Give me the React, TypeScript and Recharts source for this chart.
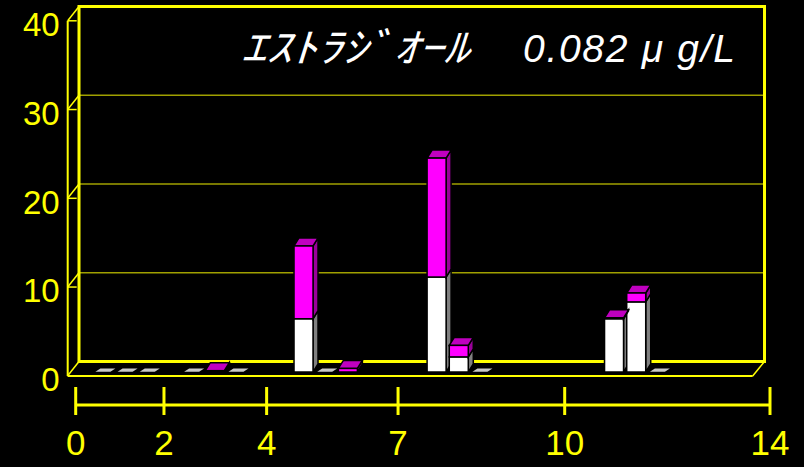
import { Bar, BarChart, CartesianGrid, XAxis, YAxis } from "recharts";

// one slot per sample position along the floor
const sampleNo = [
  "1", "2", "3", "4", "5", "6", "7", "8", "9", "10",
  "11", "12", "13", "14", "15", "16", "17", "18", "19", "20",
  "21", "22", "23", "24", "25", "26", "27", "28", "29", "30",
];
// null = no reading at that slot, 0 = reading of zero
const lowerPart = [
  0, 0, 0, null, 0, 0, 0, null, null, 6.0,
  0, 0, null, null, null, 10.7, 1.7, 0, null, null,
  null, null, null, 6.0, 7.9, 0, null, null, null, null,
];
const upperPart = [
  0, 0, 0, null, 0, 0.15, 0, null, null, 8.2,
  0, 0.4, null, null, null, 13.4, 1.3, 0, null, null,
  null, null, null, 0.1, 1.0, 0, null, null, null, null,
];
const valueTicks = [0, 10, 20, 30, 40];
const dayLabels = [0, 2, 4, 7, 10, 14];
// the printed day ruler is not evenly spaced; where each label sits on 0..14
const dayMarks = [0, 1.78, 3.85, 6.5, 9.86, 14];

const rows = sampleNo.map((s, i) => ({ slot: s, lower: lowerPart[i], upper: upperPart[i] }));

const YEL = "#FFFF00";
const GRID = "#A0A000";
const FONT = "'Liberation Sans', Arial, sans-serif";

// box depth (3D look)
const DX = 5;
const DY = 8;
// back wall / front edge offsets from the value scale
const BACK = -10.5;
const FRONT = 3.8;

const box = (
  x: number, y: number, w: number, h: number,
  front: string, side: string, top: string, drawTop: boolean
) => (
  <g>
    <polygon
      points={`${x + w},${y + h} ${x + w + DX},${y + h - DY} ${x + w + DX},${y - DY} ${x + w},${y}`}
      fill={side}
      stroke="#000"
      strokeWidth={1.5}
    />
    {drawTop && (
      <polygon
        points={`${x},${y} ${x + DX},${y - DY} ${x + w + DX},${y - DY} ${x + w},${y}`}
        fill={top}
        stroke="#000"
        strokeWidth={1.5}
      />
    )}
    <rect x={x} y={y} width={w} height={h} fill={front} stroke="#000" strokeWidth={1.5} />
  </g>
);

const LowerShape = (p: any) => {
  const { x, y, width, height, payload } = p;
  if (payload.lower == null) return <g />;
  if (payload.lower === 0) {
    if (payload.upper > 0) return <g />;
    // zero reading: only a flat lid on the floor
    const y0 = y + height;
    return (
      <polygon
        points={`${x + 1},${y0 - 0.3} ${x + width - 3},${y0 - 0.3} ${x + width + 2},${y0 - 3.5} ${x + 6},${y0 - 3.5}`}
        fill="#C8C8C8"
      />
    );
  }
  return box(x, y, width, height, "#FFFFFF", "#808080", "#C0C0C0", !(payload.upper > 0));
};

const UpperShape = (p: any) => {
  const { x, y, width, height, payload } = p;
  if (!(payload.upper > 0)) return <g />;
  return box(x, y, width, height, "#FF00FF", "#990099", "#C000C0", true);
};

// back wall gridlines, front ticks and the floor
const wallLine = (p: any) => {
  const { x1, x2, y1, y, height, key } = p;
  const isBottom = Math.abs(y1 - (y + height)) < 1;
  const isTop = Math.abs(y1 - y) < 1;
  const bx1 = x1 + 3.3;
  const bx2 = x2 - 5.5;
  const fx = x1 - 8;
  return (
    <g key={key}>
      <line
        x1={bx1}
        x2={bx2}
        y1={y1 + BACK}
        y2={y1 + BACK}
        stroke={isBottom || isTop ? YEL : GRID}
        strokeWidth={isBottom || isTop ? 3 : 1.3}
      />
      <line x1={fx} x2={x1 + 1} y1={y1 + FRONT} y2={y1 + FRONT} stroke={YEL} strokeWidth={1.5} />
      <line x1={fx} x2={bx1} y1={y1 + FRONT} y2={y1 + BACK} stroke={YEL} strokeWidth={1.5} />
      {isBottom && (
        <g>
          <line x1={fx} x2={x2 - 17.3} y1={y1 + 4} y2={y1 + 4} stroke={YEL} strokeWidth={2} />
          <line x1={x2 - 17.3} x2={bx2} y1={y1 + 4} y2={y1 + BACK} stroke={YEL} strokeWidth={1.5} />
          <line x1={x1} x2={x2} y1={y1 + 33} y2={y1 + 33} stroke={YEL} strokeWidth={3} />
        </g>
      )}
    </g>
  );
};

// side walls
const sideWall = (p: any) => {
  const { x1, y1, y2, x, width, key } = p;
  if (Math.abs(x1 - x) < 1) {
    return (
      <g key={key}>
        <line x1={x1 - 8} x2={x1 - 8} y1={y1 + FRONT} y2={y2 + 4} stroke={YEL} strokeWidth={2} />
        <line x1={x1 + 3.3} x2={x1 + 3.3} y1={y1 + BACK - 1.5} y2={y2 + BACK + 1.5} stroke={YEL} strokeWidth={3} />
      </g>
    );
  }
  if (Math.abs(x1 - (x + width)) < 1) {
    return (
      <g key={key}>
        <line x1={x1 - 5.5} x2={x1 - 5.5} y1={y1 + BACK - 1.5} y2={y2 + BACK + 1.5} stroke={YEL} strokeWidth={3} />
      </g>
    );
  }
  return <g key={key} />;
};

const ValueTick = (p: any) => {
  const { x, y, payload } = p;
  return (
    <text x={x - 16} y={y + 19} textAnchor="end" fill={YEL} fontSize={33} fontFamily={FONT}>
      {payload.value}
    </text>
  );
};

const DayTick = (p: any) => {
  const { x, y, index } = p;
  return (
    <g>
      <line x1={x} x2={x} y1={y + 15} y2={y + 43} stroke={YEL} strokeWidth={3} />
      <text x={x} y={y + 83} textAnchor="middle" fill={YEL} fontSize={35} fontFamily={FONT}>
        {dayLabels[index]}
      </text>
    </g>
  );
};

export default function App() {
  return (
    <div style={{ position: "relative", width: 804, height: 467, background: "#000" }}>
      <style>{"body{margin:0;background:#000}"}</style>
      <BarChart
        width={804}
        height={467}
        data={rows}
        barSize={19}
        margin={{ top: 17, right: 34, bottom: 0, left: 0 }}
      >
        <CartesianGrid
          xAxisId="day"
          yAxisId="v"
          horizontal={wallLine}
          vertical={sideWall}
          fill="none"
          stroke="none"
        />
        <XAxis xAxisId="slot" dataKey="slot" type="category" hide padding={{ left: 16.7, right: 12.2 }} />
        {/* the day ruler carries no series, so its key is absent from the rows */}
        <XAxis
          xAxisId="day"
          dataKey="day"
          type="number"
          scale="linear"
          domain={[0, 14]}
          allowDataOverflow
          ticks={dayMarks}
          interval={0}
          height={95}
          axisLine={false}
          tickLine={false}
          tickSize={0}
          tickMargin={0}
          tick={<DayTick />}
        />
        <YAxis
          yAxisId="v"
          domain={[0, 40]}
          ticks={valueTicks}
          interval={0}
          width={75.7}
          axisLine={false}
          tickLine={false}
          tickSize={0}
          tickMargin={0}
          tick={<ValueTick />}
        />
        <Bar xAxisId="slot" yAxisId="v" dataKey="lower" stackId="s" shape={LowerShape} isAnimationActive={false} />
        <Bar xAxisId="slot" yAxisId="v" dataKey="upper" stackId="s" shape={UpperShape} isAnimationActive={false} />
      </BarChart>
      <svg
        width={804}
        height={467}
        style={{ position: "absolute", left: 0, top: 0, pointerEvents: "none" }}
      >
        <text
          x={241}
          y={62}
          fill="#FFFFFF"
          fontSize={40}
          fontStyle="italic"
          fontFamily="'Noto Sans CJK JP', sans-serif"
          textLength={228}
          lengthAdjust="spacingAndGlyphs"
        >
          ｴｽﾄﾗｼﾞｵｰﾙ
        </text>
        <text
          x={523}
          y={62}
          fill="#FFFFFF"
          fontSize={39}
          fontStyle="italic"
          fontFamily={FONT}
          textLength={212}
          lengthAdjust="spacing"
        >
          0.082 μ g/L
        </text>
      </svg>
    </div>
  );
}
